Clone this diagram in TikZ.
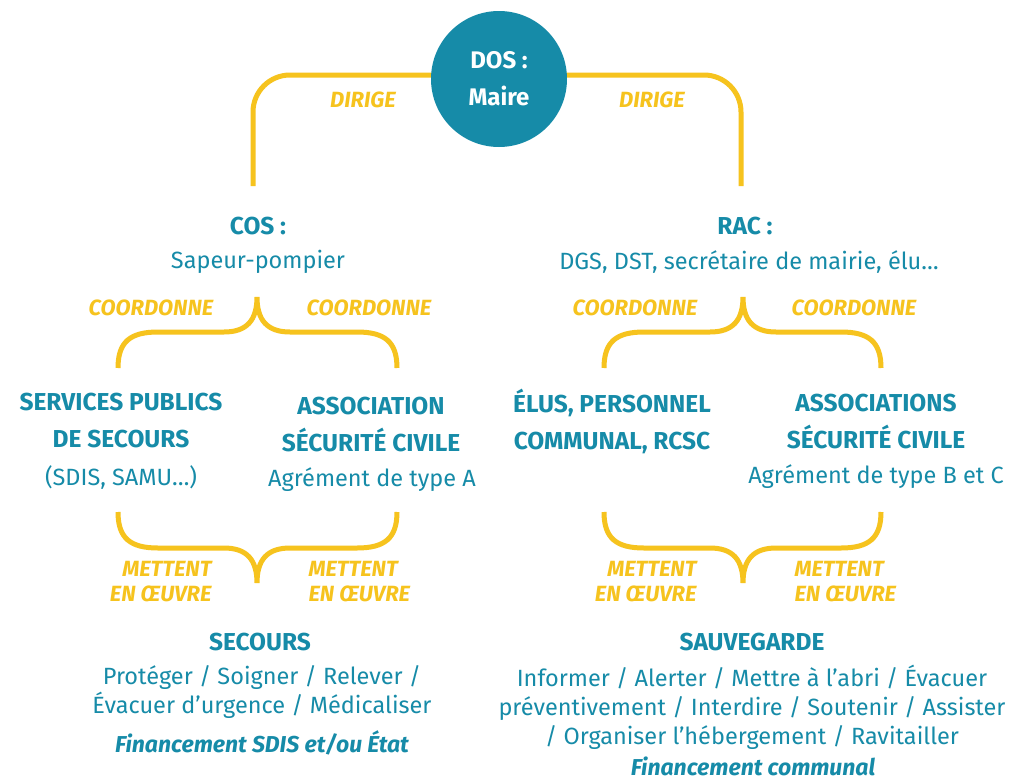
\documentclass[tikz,border=0pt]{standalone}
\usepackage{fontspec}
\setmainfont{Fira Sans}
\definecolor{teal1}{RGB}{22,139,168}
\definecolor{gold1}{RGB}{246,195,30}

\begin{document}
\begin{tikzpicture}[x=1pt,y=-1pt,
  titre/.style={font=\bfseries\fontsize{24.5}{37}\selectfont, text=teal1, align=center},
  texte/.style={font=\fontsize{23.5}{29}\selectfont, text=teal1, align=center},
  verbe/.style={font=\bfseries\itshape\fontsize{22}{25}\selectfont, text=gold1},
  accolade/.style={draw=gold1, line width=5pt}]
\fill[white] (0,0) rectangle (1010,782);
\useasboundingbox (0,0) rectangle (1010,782);

\coordinate (cosH) at (253,186);
\coordinate (racH) at (741,186);
\draw[accolade, rounded corners=37pt] (cosH) |- (499,75) -| (racH);
\node[circle, fill=teal1, minimum size=136pt, text=white, align=center,
  font=\bfseries\fontsize{24}{37}\selectfont] (dos) at (499,79) {DOS :\\Maire};
\node[verbe] (dirigeG) at (363,100) {DIRIGE};
\node[verbe] (dirigeD) at (652,100) {DIRIGE};

\node[titre] (cos) at (258,226) {COS :};
\node[texte] (sapeur) at (258,262) {Sapeur-pompier};
\node[titre] (rac) at (745,226) {RAC :};
\node[texte] (dgs) at (749,262) {DGS, DST, secrétaire de mairie, élu…};

\coordinate (coordG) at (257,297);
\coordinate (coordD) at (743,297);
\draw[accolade] (118,368) .. controls (118,342) and (130,332) .. (158,332) -- (224,332)
  .. controls (247,332) and (257,320) .. (coordG)
  .. controls (257,320) and (267,332) .. (290,332) -- (357,332)
  .. controls (385,332) and (397,342) .. (397,368);
\draw[accolade] (604,368) .. controls (604,342) and (616,332) .. (644,332) -- (710,332)
  .. controls (733,332) and (743,320) .. (coordD)
  .. controls (743,320) and (753,332) .. (776,332) -- (841,332)
  .. controls (869,332) and (881,342) .. (881,368);
\node[verbe] (coordG1) at (151,308) {COORDONNE};
\node[verbe] (coordG2) at (369,308) {COORDONNE};
\node[verbe] (coordD1) at (635,308) {COORDONNE};
\node[verbe] (coordD2) at (854,308) {COORDONNE};

\node[titre] (sps) at (121,421) {SERVICES PUBLICS\\DE SECOURS};
\node[texte] (sdis) at (121,478) {(SDIS, SAMU…)};
\node[titre] (asc) at (371,425) {ASSOCIATION\\SÉCURITÉ CIVILE};
\node[texte] (typeA) at (372,480) {Agrément de type A};
\node[titre] (elus) at (612,421) {ÉLUS, PERSONNEL\\COMMUNAL, RCSC};
\node[titre] (ascs) at (876,422) {ASSOCIATIONS\\SÉCURITÉ CIVILE};
\node[texte] (typeBC) at (876,477) {Agrément de type B et C};

\coordinate (oeuvreG) at (257,583);
\coordinate (oeuvreD) at (743,583);
\draw[accolade] (118,512) .. controls (118,538) and (130,548) .. (158,548) -- (224,548)
  .. controls (247,548) and (257,560) .. (oeuvreG)
  .. controls (257,560) and (267,548) .. (290,548) -- (357,548)
  .. controls (385,548) and (397,538) .. (397,512);
\draw[accolade] (604,512) .. controls (604,538) and (616,548) .. (644,548) -- (710,548)
  .. controls (733,548) and (743,560) .. (oeuvreD)
  .. controls (743,560) and (753,548) .. (776,548) -- (841,548)
  .. controls (869,548) and (881,538) .. (881,512);
\node[verbe, anchor=east, align=right] (metG1) at (215,582) {METTENT\\EN ŒUVRE};
\node[verbe, anchor=west, align=left] (metG2) at (305,582) {METTENT\\EN ŒUVRE};
\node[verbe, anchor=east, align=right] (metD1) at (700,582) {METTENT\\EN ŒUVRE};
\node[verbe, anchor=west, align=left] (metD2) at (791,582) {METTENT\\EN ŒUVRE};

\node[titre] (secours) at (260,642) {SECOURS};
\node[texte] (secoursT) at (262,692) {Protéger / Soigner / Relever /\\Évacuer d’urgence / Médicaliser};
\node[titre, font=\bfseries\itshape\fontsize{23}{29}\selectfont] (finG) at (262,743) {Financement SDIS et/ou État};
\node[titre] (sauv) at (752,642) {SAUVEGARDE};
\node[texte] (sauvT) at (752,707) {Informer / Alerter / Mettre à l’abri / Évacuer\\préventivement / Interdire / Soutenir / Assister\\/ Organiser l’hébergement / Ravitailler};
\node[titre, font=\bfseries\itshape\fontsize{23}{29}\selectfont, inner sep=1pt] (finD) at (753,766) {Financement communal};
\end{tikzpicture}
\end{document}
